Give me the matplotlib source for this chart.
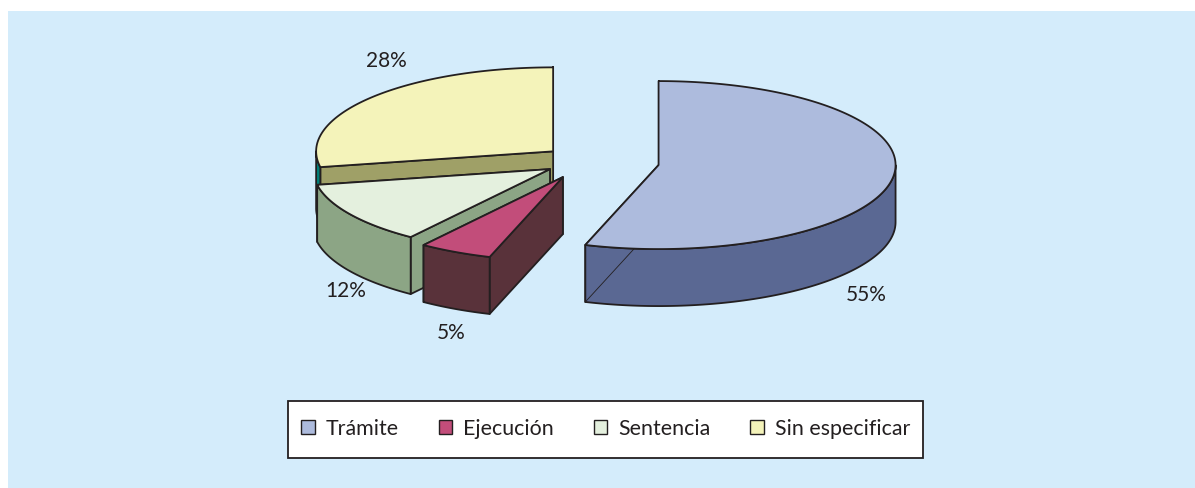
"""
Exploded 3D style pie, drawn by hand from the shares
"""
import matplotlib.pyplot as plt
import numpy as np
from matplotlib.patches import Patch, Polygon, Rectangle

categories = ["Trámite", "Ejecución", "Sentencia", "Sin especificar"]
shares = [55, 5, 12, 28]
share_labels = ["55%", "5%", "12%", "28%"]
explode = [0.31, 0.215, 0.18, 0.18]

top_colors = ["#ADBBDD", "#C24D7A", "#E4F0DE", "#F4F3BA"]
wall_colors = ["#5A6893", "#59323A", "#8CA585", "#007F77"]
face_colors = ["#5A6893", "#59323A", "#8CA585", "#9FA067"]

# layout in pixels of the 1195x488 picture
CENTER = (586, 161)
RX, RY = 237, 84
DEPTH = 57
LABEL_POS = [(866, 295), (451, 333), (346, 291), (386, 61)]
INK = "#231F20"
LW = 1.3


def rim(cx, cy, angles):
    """Points of the ellipse, angles in degrees clockwise from the top"""
    rad = np.radians(angles)
    return np.column_stack((cx + RX * np.sin(rad), cy - RY * np.cos(rad)))


def draw_slice(ax, start, end, color_top, color_wall, color_face, offset, thin_edge):
    mid = np.radians((start + end) / 2)
    cx = CENTER[0] + offset * RX * np.sin(mid)
    cy = CENTER[1] - offset * RY * np.cos(mid)
    down = np.array([0, DEPTH])
    apex = np.array([cx, cy])

    # the two cut faces
    for angle in (end, start):
        p = rim(cx, cy, np.array([angle]))[0]
        ax.add_patch(Polygon([apex, p, p + down, apex + down], facecolor=color_face,
                             edgecolor=INK, lw=LW, joinstyle="round"))

    # outer wall, only the front half of the ellipse shows it
    a0, a1 = max(start, 90), min(end, 270)
    if a1 > a0:
        arc = rim(cx, cy, np.linspace(a0, a1, 120))
        ax.add_patch(Polygon(np.vstack((arc, (arc + down)[::-1])), facecolor=color_wall,
                             edgecolor=INK, lw=LW, joinstyle="round"))

    # same zorder as the patches, so the top of the slice hides its upper part
    if thin_edge:
        p = rim(cx, cy, np.array([end]))[0]
        ax.plot([p[0], cx], [p[1] + DEPTH, cy + DEPTH], color=INK, lw=0.6, zorder=1)

    # top of the slice
    arc = rim(cx, cy, np.linspace(start, end, 200))
    ax.add_patch(Polygon(np.vstack((apex, arc)), facecolor=color_top,
                         edgecolor=INK, lw=LW, joinstyle="round"))


plt.rcParams["font.family"] = ["Lato", "DejaVu Sans"]

fig = plt.figure(figsize=(11.95, 4.88), dpi=100, facecolor="white")
ax = fig.add_axes([0, 0, 1, 1])
ax.set_xlim(0, 1195)
ax.set_ylim(488, 0)
ax.axis("off")

ax.add_patch(Rectangle((8, 11), 1187, 477, facecolor="#D4ECFB", edgecolor="none"))

edges = np.concatenate(([0], np.cumsum(shares))) * 3.6

# back slices first
for i in [3, 2, 1, 0]:
    draw_slice(ax, edges[i], edges[i + 1], top_colors[i], wall_colors[i], face_colors[i],
               explode[i], thin_edge=i == 0)

for label, pos in zip(share_labels, LABEL_POS):
    ax.text(pos[0], pos[1], label, ha="center", va="center", fontsize=15, color=INK)

ax.add_patch(Rectangle((288, 401), 635, 57, facecolor="white", edgecolor=INK, lw=1.3))
handles = [Patch(facecolor=c, edgecolor=INK, lw=1.0) for c in top_colors]
ax.legend(handles, categories, ncol=4, frameon=False, loc="center",
          bbox_to_anchor=(605.5, 429), bbox_transform=ax.transData, fontsize=15.4,
          labelcolor=INK, handlelength=0.63, handleheight=0.63, handletextpad=0.5,
          columnspacing=1.88, borderpad=0, borderaxespad=0)

fig.savefig("out.png", dpi=100)
